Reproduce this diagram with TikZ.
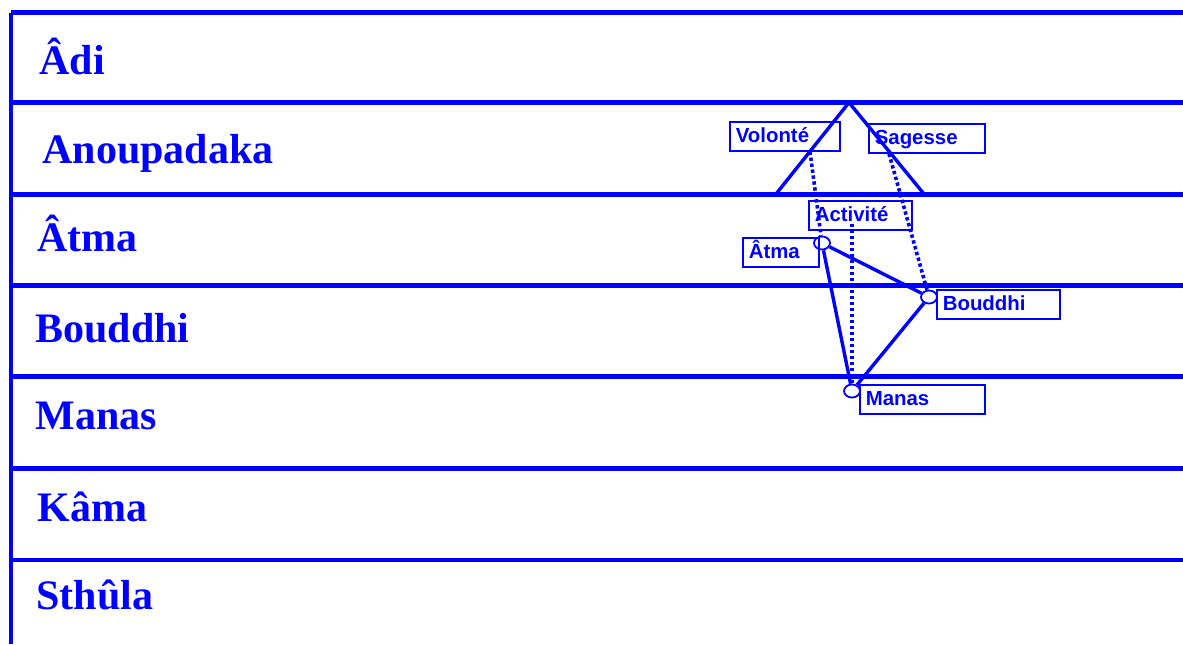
\documentclass[tikz,border=0pt]{standalone}
\usepackage{fontspec}
\setmainfont{Liberation Serif}
\setsansfont{Liberation Sans}
\usetikzlibrary{positioning,shapes.geometric,calc}

\begin{document}
\begin{tikzpicture}[
  x=0.5pt,y=-0.5pt,
  plane/.style={anchor=base west,inner sep=0pt,text=blue,
                font=\bfseries\fontsize{21}{24}\selectfont},
  rule/.style={draw=blue,line width=2.4pt},
  tag/.style={draw=blue,line width=0.8pt,anchor=north west,align=left,
              inner xsep=3pt,inner ysep=0pt,text height=10.5pt,text depth=4pt,
              text=blue,font=\sffamily\bfseries\fontsize{10.2}{12}\selectfont},
  pt/.style={ellipse,draw=blue,line width=0.9pt,minimum width=8pt,
             minimum height=6.5pt,inner sep=0pt},
  link/.style={draw=blue,line width=1.7pt},
  dots/.style={draw=blue,line width=1.8pt,dash pattern=on 1.7pt off 1.3pt},
]
  \useasboundingbox (0,0) rectangle (1183,644);

  % planes
  \draw[rule] (11,12.5) -- (11,644);
  \foreach \y in {12.5,102.5,194.5,285.5,376.5,468.5,560}
    \draw[rule] (11,\y) -- (1183,\y);

  \node[plane] (adi)   at (39,74)  {Âdi};
  \node[plane] (anou)  at (42,163) {Anoupadaka};
  \node[plane] (atma)  at (37,251) {Âtma};
  \node[plane] (boud)  at (35,342) {Bouddhi};
  \node[plane] (manas) at (35,429) {Manas};
  \node[plane] (kama)  at (37,521) {Kâma};
  \node[plane] (sthu)  at (36,609) {Sthûla};

  % triangle
  \draw[link] (776,194) -- (849,102.5) -- (924,194);

  \node[tag,text width=49pt]   (vol)  at (729,121) {Volonté};
  \node[tag,text width=52pt]   (sag)  at (868,123) {Sagesse};
  \node[tag,text width=45.5pt] (act)  at (808,200) {Activité};
  \node[tag,text width=32pt]   (atb)  at (742,237) {Âtma};
  \node[tag,text width=55.5pt] (boub) at (936,289) {Bouddhi};
  \node[tag,text width=56.5pt] (manb) at (859,384) {Manas};

  \node[pt] (p-atma)  at (822,243) {};
  \node[pt] (p-boud)  at (929,297) {};
  \node[pt] (p-manas) at (852,391) {};

  \draw[link] (p-atma) -- (p-boud);
  \draw[link] (p-atma) -- (p-manas);
  \draw[link] (p-boud) -- (p-manas);

  \draw[dots] ($(vol.south west)+(81,0)$) -- (p-atma);
  \draw[dots] ($(sag.south west)+(21,0)$) -- (p-boud);
  \draw[dots] ($(act.south west)+(44,-7)$) -- (p-manas);
\end{tikzpicture}
\end{document}
